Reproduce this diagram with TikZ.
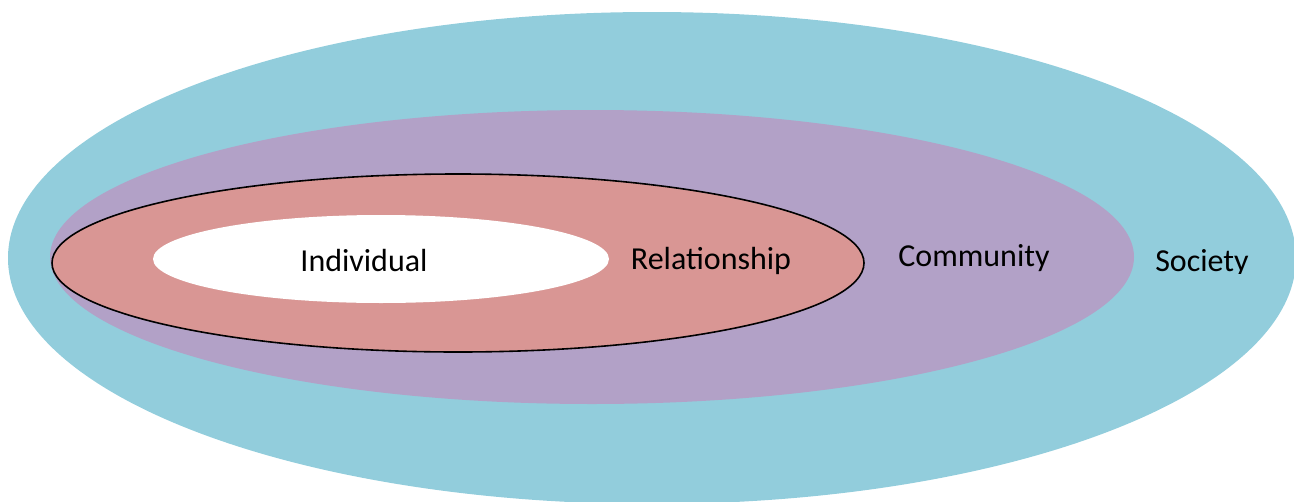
\documentclass[tikz,border=0pt]{standalone}
\usepackage{fontspec}
\setmainfont{Carlito}
\definecolor{societyc}{HTML}{92CDDC}
\definecolor{communityc}{HTML}{B2A1C7}
\definecolor{relc}{HTML}{D99694}
\begin{document}
\begin{tikzpicture}[x=1pt,y=-1pt,
  lbl/.style={font=\fontsize{32}{36}\selectfont, text=black, inner sep=0pt}]
\useasboundingbox (0,0) rectangle (1294,501);
\clip (0,0) rectangle (1294,501);
\fill[societyc] (652,258) ellipse [x radius=644, y radius=246];
\fill[communityc] (592,257) ellipse [x radius=542, y radius=147];
\filldraw[fill=relc, draw=black, line width=1.6pt] (458,263) ellipse [x radius=406, y radius=89];
\fill[white] (381,259) ellipse [x radius=228, y radius=44];
\node[lbl] (ind) at (364,261) {Individual};
\node[lbl] (rel) at (711,261) {Relationship};
\node[lbl] (com) at (974,258) {Community};
\begin{scope}
\clip (1130,230) rectangle (1280,273);
\node[lbl, anchor=base] (soc) at (1202,271) {Society};
\end{scope}
\end{tikzpicture}
\end{document}
